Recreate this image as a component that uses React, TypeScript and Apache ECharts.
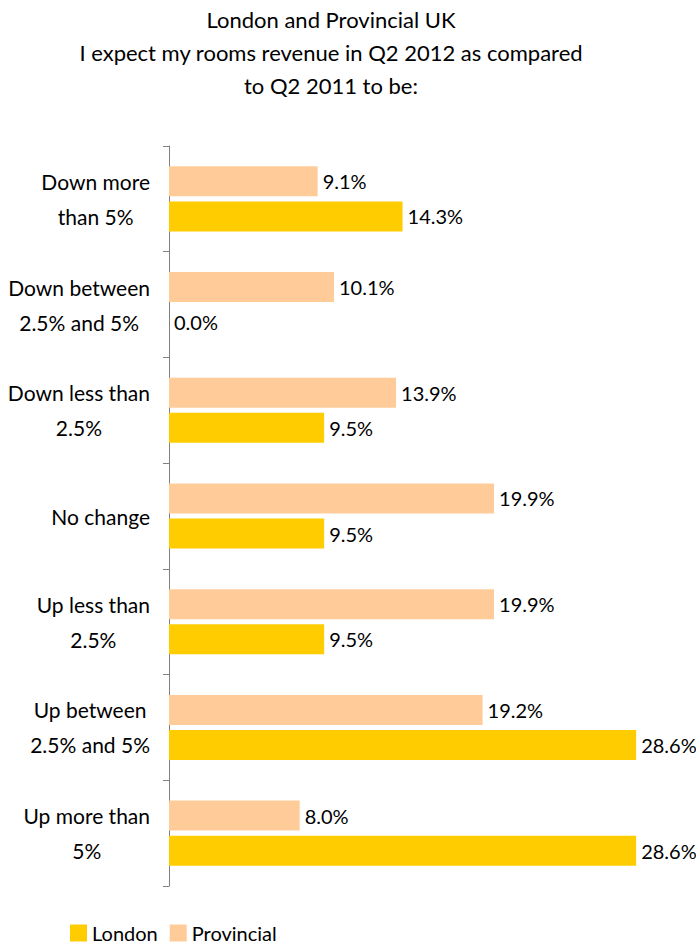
import React, { useEffect, useRef } from "react";
import * as echarts from "echarts";

const categories = [
  "Down more\nthan 5%",
  "Down between\n2.5% and 5%",
  "Down less than\n2.5%",
  "No change",
  "Up less than\n2.5%",
  "Up between\n2.5% and 5%",
  "Up more than\n5%",
];
const londonValues = [14.3, 0.0, 9.5, 9.5, 9.5, 28.6, 28.6];
const provincialValues = [9.1, 10.1, 13.9, 19.9, 19.9, 19.2, 8.0];
const titleLines = [
  "London and Provincial UK",
  "I expect my rooms revenue in Q2 2012 as compared",
  "to Q2 2011 to be:",
];

const FONT = "Lato";

export default function App() {
  const ref = useRef<HTMLDivElement>(null);
  useEffect(() => {
    if (!ref.current) return;
    const chart = echarts.init(ref.current, null, { renderer: "svg" });
    const labelOpt = {
      show: true,
      position: "right",
      distance: 5,
      color: "#000",
      fontFamily: FONT,
      fontSize: 20,
      formatter: (p: any) => p.value.toFixed(1) + "%",
    };
    chart.setOption({
      animation: false,
      backgroundColor: "#fff",
      title: {
        text: titleLines.join("\n"),
        left: 331,
        top: 3,
        padding: 0,
        textAlign: "center",
        textStyle: {
          fontFamily: FONT,
          fontSize: 22,
          fontWeight: "normal",
          color: "#000",
          lineHeight: 33,
        },
      },
      legend: {
        data: ["London", "Provincial"],
        left: 70,
        top: 923,
        padding: 0,
        itemWidth: 17,
        itemHeight: 17,
        itemGap: 12,
        icon: "rect",
        textStyle: { fontFamily: FONT, fontSize: 20, lineHeight: 18, color: "#000" },
      },
      grid: { left: 169, top: 146, height: 740, width: 490 },
      xAxis: {
        type: "value",
        min: 0,
        max: 30,
        show: false,
      },
      yAxis: {
        type: "category",
        inverse: true,
        data: categories,
        axisLine: { show: true, lineStyle: { color: "#808080", width: 1 } },
        axisTick: { show: true, length: 6, lineStyle: { color: "#808080" } },
        splitLine: { show: false },
        axisLabel: {
          margin: 19,
          color: "#000",
          fontFamily: FONT,
          fontSize: 21,
          lineHeight: 35,
          formatter: (v: string) =>
            v
              .split("\n")
              .map((l) => "{c|" + l + "}")
              .join("\n"),
          rich: {
            c: {
              align: "center",
              fontFamily: FONT,
              fontSize: 21,
              lineHeight: 35,
              color: "#000",
            },
          },
        },
      },
      series: [
        {
          name: "Provincial",
          type: "bar",
          data: provincialValues,
          itemStyle: { color: "#FFCC99" },
          barWidth: 30,
          barGap: "17%",
          label: labelOpt,
        },
        {
          name: "London",
          type: "bar",
          data: londonValues,
          itemStyle: { color: "#FFCC00" },
          barWidth: 30,
          barGap: "17%",
          label: labelOpt,
        },
      ],
    });
    return () => chart.dispose();
  }, []);
  return (
    <div
      ref={ref}
      style={{ position: "fixed", left: 0, top: 0, width: 696, height: 947 }}
    />
  );
}
